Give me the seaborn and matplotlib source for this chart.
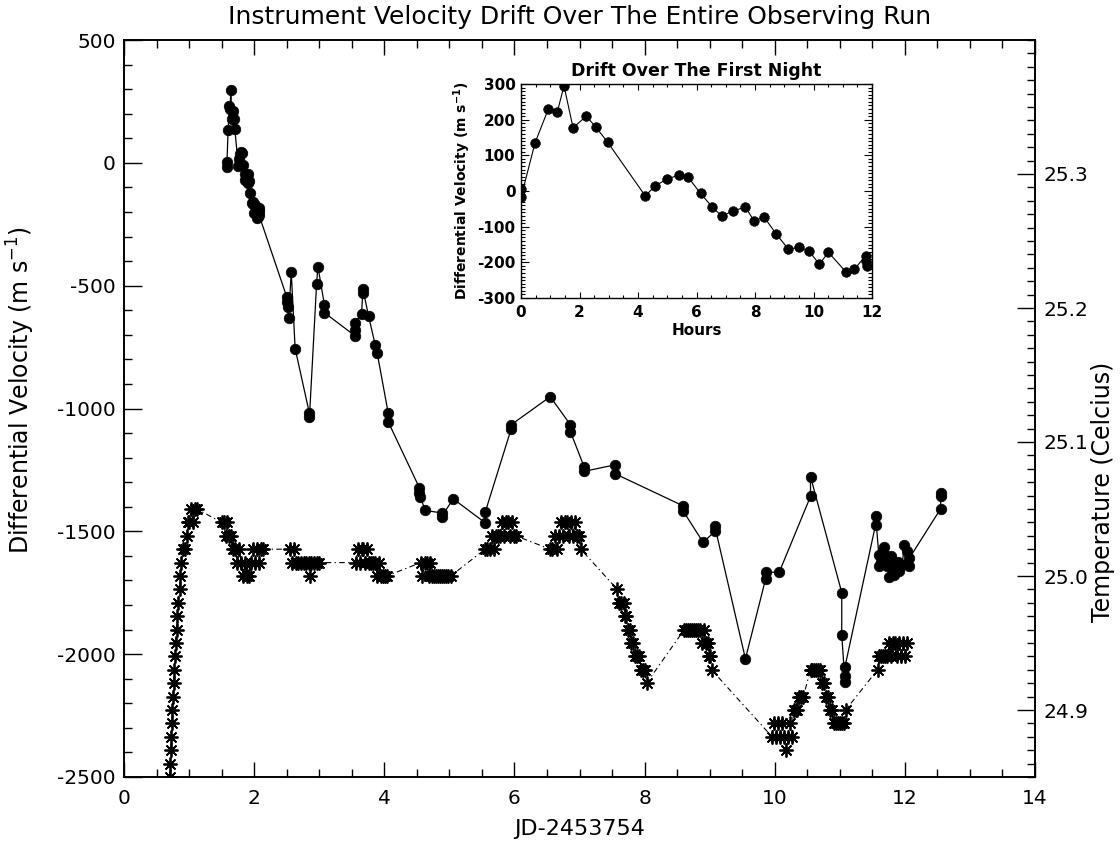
import numpy as np
import matplotlib
matplotlib.use("Agg")
import matplotlib.pyplot as plt
from matplotlib.ticker import MultipleLocator, FormatStrFormatter
import seaborn as sns

sns.set_style("ticks")
plt.rcParams['font.family'] = ['DejaVu Sans']
plt.rcParams['axes.unicode_minus'] = False
plt.rcParams['text.color'] = 'black'
plt.rcParams['axes.edgecolor'] = 'black'
plt.rcParams['xtick.color'] = 'black'
plt.rcParams['ytick.color'] = 'black'
plt.rcParams['axes.labelcolor'] = 'black'

# ---------------- data ----------------
# Main panel: differential velocity (m/s) versus JD-2453754
vel_x = [1.580, 1.580, 1.600, 1.619, 1.632, 1.641, 1.654, 1.673, 1.686, 1.703,
         1.757, 1.771, 1.788, 1.805, 1.818, 1.836, 1.853, 1.866, 1.883, 1.900,
         1.912, 1.926, 1.944, 1.961, 1.977, 1.990, 2.005, 2.018, 2.043, 2.055,
         2.071, 2.072, 2.073,
         2.50, 2.51, 2.52, 2.53, 2.57, 2.63, 2.85, 2.85, 2.96, 2.98, 3.08, 3.08,
         3.55, 3.55, 3.55, 3.65, 3.67, 3.67, 3.76, 3.86, 3.89, 4.06, 4.06,
         4.54, 4.54, 4.55, 4.63, 4.88, 4.88, 5.06, 5.55, 5.55, 5.95, 5.95,
         6.55, 6.86, 6.86, 7.07, 7.07, 7.55, 7.55, 8.59, 8.59, 8.90, 9.08, 9.08,
         9.55, 9.86, 9.86, 10.07, 10.55, 10.55, 11.03, 11.03, 11.08, 11.08, 11.08,
         11.55, 11.55,
         11.60, 11.60, 11.63, 11.66, 11.68, 11.71, 11.73, 11.76, 11.76, 11.78,
         11.81, 11.84, 11.84, 11.86, 11.89, 11.91, 11.96, 11.99, 12.04, 12.07, 12.07,
         12.55, 12.55, 12.55]
vel_v = [5, -18, 135, 231, 221, 295, 177, 210, 180, 137,
         -14, 14, 34, 44, 38, -7, -45, -70, -56, -45,
         -84, -73, -121, -163, -158, -168, -205, -172, -226, -219,
         -182, -197, -211,
         -545, -565, -588, -631, -444, -756, -1020, -1035, -492, -422, -578, -610,
         -704, -680, -651, -615, -529, -513, -625, -741, -773, -1018, -1054,
         -1323, -1345, -1359, -1415, -1425, -1440, -1368, -1465, -1423, -1083, -1066,
         -952, -1066, -1094, -1237, -1256, -1229, -1266, -1396, -1416, -1545, -1500, -1480,
         -2019, -1694, -1667, -1666, -1358, -1277, -1749, -1921, -2115, -2088, -2051,
         -1473, -1437,
         -1595, -1643, -1623, -1582, -1562, -1609, -1643, -1684, -1623, -1602,
         -1650, -1677, -1629, -1656, -1623, -1663, -1636, -1555, -1582, -1643, -1609,
         -1408, -1358, -1344]

# Main panel: temperature (Celcius) versus JD-2453754
temp_x = [0.700, 0.708, 0.718, 0.726, 0.733, 0.743, 0.755, 0.765, 0.775, 0.785,
          0.795, 0.810, 0.820, 0.835, 0.855, 0.865, 0.880, 0.910, 0.940, 0.965,
          0.980, 1.000, 1.030, 1.060, 1.090, 1.120,
          1.50, 1.53, 1.56, 1.59, 1.62, 1.65, 1.68, 1.71, 1.74, 1.77, 1.80, 1.83,
          1.86, 1.89, 1.92, 1.95, 1.98, 2.01, 2.04, 2.07, 2.10, 2.13,
          2.55, 2.58, 2.61, 2.64, 2.68, 2.72, 2.76, 2.80, 2.84, 2.86, 2.88, 2.92,
          2.96, 2.99,
          3.56, 3.59, 3.62, 3.65, 3.68, 3.71, 3.74, 3.77, 3.80, 3.83, 3.86, 3.89,
          3.92, 3.95, 3.98, 4.01, 4.04,
          4.56, 4.58, 4.62, 4.65, 4.68, 4.71, 4.74, 4.77, 4.80, 4.83, 4.86, 4.89,
          4.92, 4.95, 4.98, 5.02,
          5.55, 5.58, 5.62, 5.65, 5.68, 5.72, 5.75, 5.78, 5.81, 5.84, 5.87, 5.90,
          5.93, 5.96, 5.99, 6.02,
          6.55, 6.58, 6.62, 6.65, 6.68, 6.72, 6.75, 6.78, 6.81, 6.84, 6.87, 6.90,
          6.93, 6.96, 6.99, 7.02,
          7.58, 7.60, 7.64, 7.68, 7.70, 7.72, 7.74, 7.77, 7.79, 7.82, 7.85, 7.88,
          7.92, 7.95, 7.98, 8.01, 8.03,
          8.61, 8.64, 8.67, 8.70, 8.73, 8.76, 8.79, 8.82, 8.85, 8.88, 8.91, 8.94,
          8.97, 8.99, 9.01, 9.03,
          9.96, 9.99, 10.02, 10.05, 10.08, 10.11, 10.14, 10.17, 10.20, 10.23, 10.26,
          10.29, 10.32, 10.35, 10.38, 10.41, 10.44,
          10.55, 10.58, 10.61, 10.64, 10.67, 10.70, 10.73, 10.76, 10.79, 10.82,
          10.85, 10.88, 10.91, 10.94, 10.97, 11.00, 11.03, 11.06, 11.09,
          11.58, 11.61, 11.64, 11.67, 11.70, 11.73, 11.76, 11.79, 11.82, 11.85,
          11.88, 11.91, 11.94, 11.97, 12.00, 12.03]
temp_c = [24.85, 24.86, 24.87, 24.88, 24.89, 24.90, 24.91, 24.92, 24.93, 24.94,
          24.95, 24.96, 24.97, 24.98, 24.99, 25.00, 25.01, 25.02, 25.02, 25.03,
          25.04, 25.04, 25.05, 25.04, 25.05, 25.05,
          25.04, 25.04, 25.03, 25.04, 25.03, 25.03, 25.02, 25.02, 25.01, 25.02,
          25.01, 25.00, 25.01, 25.00, 25.00, 25.01, 25.02, 25.01, 25.02, 25.01,
          25.02, 25.02,
          25.02, 25.01, 25.02, 25.01, 25.01, 25.01, 25.01, 25.01, 25.01, 25.00,
          25.01, 25.01, 25.01, 25.01,
          25.01, 25.02, 25.01, 25.02, 25.02, 25.01, 25.02, 25.01, 25.01, 25.01,
          25.01, 25.00, 25.01, 25.00, 25.00, 25.00, 25.00,
          25.01, 25.00, 25.01, 25.01, 25.00, 25.01, 25.00, 25.00, 25.00, 25.00,
          25.00, 25.00, 25.00, 25.00, 25.00, 25.00,
          25.02, 25.02, 25.02, 25.03, 25.02, 25.03, 25.03, 25.03, 25.04, 25.03,
          25.04, 25.04, 25.03, 25.04, 25.03, 25.03,
          25.02, 25.02, 25.03, 25.02, 25.03, 25.04, 25.03, 25.04, 25.04, 25.03,
          25.04, 25.03, 25.04, 25.03, 25.03, 25.02,
          24.99, 24.98, 24.98, 24.98, 24.97, 24.97, 24.96, 24.96, 24.95, 24.95,
          24.94, 24.94, 24.94, 24.93, 24.93, 24.93, 24.92,
          24.96, 24.96, 24.96, 24.96, 24.96, 24.96, 24.96, 24.96, 24.96, 24.95,
          24.96, 24.95, 24.95, 24.94, 24.94, 24.93,
          24.88, 24.89, 24.88, 24.89, 24.88, 24.89, 24.88, 24.87, 24.88, 24.89,
          24.88, 24.90, 24.90, 24.90, 24.91, 24.91, 24.91,
          24.93, 24.93, 24.93, 24.93, 24.93, 24.93, 24.92, 24.92, 24.91, 24.91,
          24.90, 24.90, 24.89, 24.89, 24.89, 24.89, 24.89, 24.89, 24.90,
          24.93, 24.94, 24.94, 24.94, 24.94, 24.94, 24.95, 24.94, 24.95, 24.95,
          24.94, 24.95, 24.94, 24.95, 24.94, 24.95]

# Inset: first night, hours versus differential velocity
inset_h = [0.0, 0.0, 0.48, 0.94, 1.24, 1.47, 1.78, 2.23, 2.55, 2.96, 4.25, 4.58,
           5.0, 5.39, 5.72, 6.14, 6.54, 6.86, 7.26, 7.67, 7.97, 8.31, 8.73, 9.14,
           9.52, 9.84, 10.2, 10.51, 11.1, 11.4, 11.78, 11.8, 11.82]
inset_v = [5, -18, 135, 231, 221, 295, 177, 210, 180, 137, -14, 14,
           34, 44, 38, -7, -45, -70, -56, -45, -84, -73, -121, -163,
           -158, -168, -205, -172, -226, -219, -182, -197, -211]

x_ticks = [0, 2, 4, 6, 8, 10, 12, 14]
v_ticks = [-2500, -2000, -1500, -1000, -500, 0, 500]
t_ticks = [24.9, 25.0, 25.1, 25.2, 25.3]
inset_xticks = [0, 2, 4, 6, 8, 10, 12]
inset_yticks = [-300, -200, -100, 0, 100, 200, 300]

# ---------------- figure ----------------
W, H = 1120, 844
fig = plt.figure(figsize=(W / 100, H / 100), dpi=100)
fig.patch.set_facecolor('white')

L, R, T, B = 124, 1035, 40, 777
ax = fig.add_axes([L / W, (H - B) / H, (R - L) / W, (B - T) / H])
ax.set_facecolor('white')

sns.lineplot(ax=ax, x=vel_x, y=vel_v, sort=False, estimator=None,
             color='black', linewidth=0.9, marker='o', markersize=7.6,
             markerfacecolor='black', markeredgecolor='black', markeredgewidth=0.5)

ax.set_xlim(0, 14)
ax.set_ylim(-2500, 500)
ax.set_xticks(x_ticks)
ax.set_yticks(v_ticks)
ax.xaxis.set_minor_locator(MultipleLocator(0.5))
ax.yaxis.set_minor_locator(MultipleLocator(100))
ax.tick_params(axis='x', which='both', direction='in', top=True, bottom=True,
               labelsize=14.5, pad=9, width=1.0)
ax.tick_params(axis='x', which='major', length=10.5)
ax.tick_params(axis='x', which='minor', length=5.5)
ax.tick_params(axis='y', which='both', direction='in', left=True, right=False,
               labelsize=14.5, pad=6, width=1.0)
ax.tick_params(axis='y', which='major', length=13)
ax.tick_params(axis='y', which='minor', length=6)
ax.set_xlabel('')
ax.set_ylabel('')
for s in ax.spines.values():
    s.set_linewidth(1.2)
    s.set_visible(True)

ax2 = ax.twinx()
sns.lineplot(ax=ax2, x=temp_x, y=temp_c, sort=False, estimator=None,
             color='black', linewidth=0.8, marker=(8, 2, 0), markersize=10,
             markerfacecolor='black', markeredgecolor='black', markeredgewidth=1.3)
for ln in ax2.lines:
    ln.set_linestyle((0, (5, 3, 1.2, 3)))
ax2.set_ylim(24.85, 25.40)
ax2.set_yticks(t_ticks)
ax2.yaxis.set_major_formatter(FormatStrFormatter('%.1f'))
ax2.yaxis.set_minor_locator(MultipleLocator(0.01))
ax2.tick_params(axis='y', which='both', direction='in', right=True, left=False,
                labelsize=14.5, pad=6, width=1.0)
ax2.tick_params(axis='y', which='major', length=13)
ax2.tick_params(axis='y', which='minor', length=6)
ax2.set_ylabel('')
for s in ax2.spines.values():
    s.set_linewidth(1.2)

fig.text((L + R) / 2 / W, 1 - 17 / H,
         'Instrument Velocity Drift Over The Entire Observing Run',
         ha='center', va='center', fontsize=18)
fig.text((L + R) / 2 / W, 1 - 829 / H, 'JD-2453754',
         ha='center', va='center', fontsize=16)
fig.text(21 / W, 1 - 390 / H, r'Differential Velocity (m s$^{-1}$)',
         ha='center', va='center', rotation=90, fontsize=17)
fig.text(1103 / W, 1 - 492 / H, 'Temperature (Celcius)',
         ha='center', va='center', rotation=90, fontsize=17)

# ---------------- inset ----------------
iL, iR, iT, iB = 521, 872, 84, 298
axi = fig.add_axes([iL / W, (H - iB) / H, (iR - iL) / W, (iB - iT) / H])
axi.set_facecolor('white')
sns.lineplot(ax=axi, x=inset_h, y=inset_v, sort=False, estimator=None,
             color='black', linewidth=0.8, marker='o', markersize=7,
             markerfacecolor='black', markeredgecolor='black', markeredgewidth=0.4)
axi.set_xlim(0, 12)
axi.set_ylim(-300, 300)
axi.set_xticks(inset_xticks)
axi.set_yticks(inset_yticks)
axi.xaxis.set_minor_locator(MultipleLocator(0.5))
axi.yaxis.set_minor_locator(MultipleLocator(10))
axi.tick_params(axis='both', which='both', direction='in', top=True, right=True,
                labelsize=11, width=0.8)
axi.tick_params(axis='x', which='major', length=4, pad=5)
axi.tick_params(axis='x', which='minor', length=2)
axi.tick_params(axis='y', which='major', length=6, pad=4)
axi.tick_params(axis='y', which='minor', length=3)
for lab in axi.get_xticklabels() + axi.get_yticklabels():
    lab.set_fontweight('bold')
axi.set_title('Drift Over The First Night', fontsize=12.5, fontweight='bold', pad=6)
axi.set_xlabel('Hours', fontsize=11, fontweight='bold', labelpad=2)
axi.set_ylabel(r'Differential Velocity (m s$^{\mathbf{-1}}$)', fontsize=10,
               fontweight='bold', labelpad=3)
for s in axi.spines.values():
    s.set_linewidth(1.0)

fig.savefig('out.png', dpi=100, facecolor='white')
